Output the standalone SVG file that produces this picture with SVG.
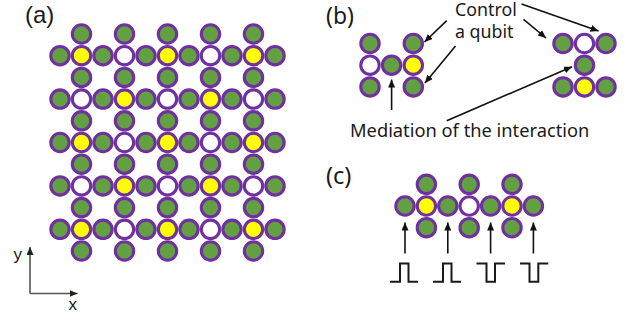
<svg xmlns="http://www.w3.org/2000/svg" width="641" height="320" viewBox="0 0 641 320">
<defs>
<style>
circle{stroke:#7030a0;stroke-width:3.1}
.g{fill:#62a042}.y{fill:#ffff00}.w{fill:#ffffff}
.lbl{font-family:"Liberation Sans",Arial,sans-serif;fill:#1a1a1a}
.txt{font-family:"Noto Sans","Open Sans",sans-serif;fill:#1a1a1a}
.ar{stroke:#111;stroke-width:1.6;fill:none}
.ax{stroke:#555;stroke-width:1.6;fill:none}
.pulse{stroke:#1a1a1a;stroke-width:2;fill:none}
</style>
<marker id="ah" markerUnits="userSpaceOnUse" markerWidth="9" markerHeight="8" refX="8" refY="3.5" orient="auto"><path d="M0,0 L8,3.5 L0,7 z" fill="#111"/></marker>
<marker id="axh" markerUnits="userSpaceOnUse" markerWidth="9" markerHeight="8" refX="8" refY="3.5" orient="auto"><path d="M0,0 L8,3.5 L0,7 z" fill="#222"/></marker>
</defs>
<rect width="641" height="320" fill="#fff"/>

<text class="lbl" x="25" y="22.5" font-size="24">(a)</text>
<text class="txt" x="326" y="23.5" font-size="23">(b)</text>
<text class="txt" x="326" y="184" font-size="23.5">(c)</text>

<g id="panel-a">
<g id="a0"><circle class="g" cx="81.5" cy="34" r="9.2"/><circle class="g" cx="124.5" cy="34" r="9.2"/><circle class="g" cx="167.5" cy="34" r="9.2"/><circle class="g" cx="210.5" cy="34" r="9.2"/><circle class="g" cx="253.5" cy="34" r="9.2"/></g>
<g id="a1"><circle class="g" cx="60" cy="55.7" r="9.2"/><circle class="y" cx="81.5" cy="55.7" r="9.2"/><circle class="g" cx="103" cy="55.7" r="9.2"/><circle class="w" cx="124.5" cy="55.7" r="9.2"/><circle class="g" cx="146" cy="55.7" r="9.2"/><circle class="y" cx="167.5" cy="55.7" r="9.2"/><circle class="g" cx="189" cy="55.7" r="9.2"/><circle class="w" cx="210.5" cy="55.7" r="9.2"/><circle class="g" cx="232" cy="55.7" r="9.2"/><circle class="y" cx="253.5" cy="55.7" r="9.2"/><circle class="g" cx="275" cy="55.7" r="9.2"/></g>
<g id="a2"><circle class="g" cx="81.5" cy="77.4" r="9.2"/><circle class="g" cx="124.5" cy="77.4" r="9.2"/><circle class="g" cx="167.5" cy="77.4" r="9.2"/><circle class="g" cx="210.5" cy="77.4" r="9.2"/><circle class="g" cx="253.5" cy="77.4" r="9.2"/></g>
<g id="a3"><circle class="g" cx="60" cy="99.1" r="9.2"/><circle class="w" cx="81.5" cy="99.1" r="9.2"/><circle class="g" cx="103" cy="99.1" r="9.2"/><circle class="y" cx="124.5" cy="99.1" r="9.2"/><circle class="g" cx="146" cy="99.1" r="9.2"/><circle class="w" cx="167.5" cy="99.1" r="9.2"/><circle class="g" cx="189" cy="99.1" r="9.2"/><circle class="y" cx="210.5" cy="99.1" r="9.2"/><circle class="g" cx="232" cy="99.1" r="9.2"/><circle class="w" cx="253.5" cy="99.1" r="9.2"/><circle class="g" cx="275" cy="99.1" r="9.2"/></g>
<g id="a4"><circle class="g" cx="81.5" cy="120.8" r="9.2"/><circle class="g" cx="124.5" cy="120.8" r="9.2"/><circle class="g" cx="167.5" cy="120.8" r="9.2"/><circle class="g" cx="210.5" cy="120.8" r="9.2"/><circle class="g" cx="253.5" cy="120.8" r="9.2"/></g>
<g id="a5"><circle class="g" cx="60" cy="142.5" r="9.2"/><circle class="y" cx="81.5" cy="142.5" r="9.2"/><circle class="g" cx="103" cy="142.5" r="9.2"/><circle class="w" cx="124.5" cy="142.5" r="9.2"/><circle class="g" cx="146" cy="142.5" r="9.2"/><circle class="y" cx="167.5" cy="142.5" r="9.2"/><circle class="g" cx="189" cy="142.5" r="9.2"/><circle class="w" cx="210.5" cy="142.5" r="9.2"/><circle class="g" cx="232" cy="142.5" r="9.2"/><circle class="y" cx="253.5" cy="142.5" r="9.2"/><circle class="g" cx="275" cy="142.5" r="9.2"/></g>
<g id="a6"><circle class="g" cx="81.5" cy="164.2" r="9.2"/><circle class="g" cx="124.5" cy="164.2" r="9.2"/><circle class="g" cx="167.5" cy="164.2" r="9.2"/><circle class="g" cx="210.5" cy="164.2" r="9.2"/><circle class="g" cx="253.5" cy="164.2" r="9.2"/></g>
<g id="a7"><circle class="g" cx="60" cy="185.9" r="9.2"/><circle class="w" cx="81.5" cy="185.9" r="9.2"/><circle class="g" cx="103" cy="185.9" r="9.2"/><circle class="y" cx="124.5" cy="185.9" r="9.2"/><circle class="g" cx="146" cy="185.9" r="9.2"/><circle class="w" cx="167.5" cy="185.9" r="9.2"/><circle class="g" cx="189" cy="185.9" r="9.2"/><circle class="y" cx="210.5" cy="185.9" r="9.2"/><circle class="g" cx="232" cy="185.9" r="9.2"/><circle class="w" cx="253.5" cy="185.9" r="9.2"/><circle class="g" cx="275" cy="185.9" r="9.2"/></g>
<g id="a8"><circle class="g" cx="81.5" cy="207.6" r="9.2"/><circle class="g" cx="124.5" cy="207.6" r="9.2"/><circle class="g" cx="167.5" cy="207.6" r="9.2"/><circle class="g" cx="210.5" cy="207.6" r="9.2"/><circle class="g" cx="253.5" cy="207.6" r="9.2"/></g>
<g id="a9"><circle class="g" cx="60" cy="229.3" r="9.2"/><circle class="y" cx="81.5" cy="229.3" r="9.2"/><circle class="g" cx="103" cy="229.3" r="9.2"/><circle class="w" cx="124.5" cy="229.3" r="9.2"/><circle class="g" cx="146" cy="229.3" r="9.2"/><circle class="y" cx="167.5" cy="229.3" r="9.2"/><circle class="g" cx="189" cy="229.3" r="9.2"/><circle class="w" cx="210.5" cy="229.3" r="9.2"/><circle class="g" cx="232" cy="229.3" r="9.2"/><circle class="y" cx="253.5" cy="229.3" r="9.2"/><circle class="g" cx="275" cy="229.3" r="9.2"/></g>
<g id="a10"><circle class="g" cx="81.5" cy="251" r="9.2"/><circle class="g" cx="124.5" cy="251" r="9.2"/><circle class="g" cx="167.5" cy="251" r="9.2"/><circle class="g" cx="210.5" cy="251" r="9.2"/><circle class="g" cx="253.5" cy="251" r="9.2"/></g>
</g>

<g id="axes">
<path class="ax" d="M30,293.5 L30,247" marker-end="url(#axh)"/>
<path class="ax" d="M30,293.5 L77.5,293.5" marker-end="url(#axh)"/>
<text class="lbl" x="13.5" y="260" font-size="17">y</text>
<text class="lbl" x="68.5" y="310" font-size="17">x</text>
</g>

<g id="panel-b-left">
<circle class="g" cx="370" cy="43.5" r="9.2"/><circle class="g" cx="413.3" cy="43.5" r="9.2"/>
<circle class="w" cx="370" cy="65.2" r="9.2"/><circle class="g" cx="391.6" cy="65.2" r="9.2"/><circle class="y" cx="413.3" cy="65.2" r="9.2"/>
<circle class="g" cx="370" cy="86.9" r="9.2"/><circle class="g" cx="413.3" cy="86.9" r="9.2"/>
</g>
<g id="panel-b-right">
<circle class="g" cx="563" cy="43.5" r="9.2"/><circle class="w" cx="584.5" cy="43.5" r="9.2"/><circle class="g" cx="606" cy="43.5" r="9.2"/>
<circle class="g" cx="584.5" cy="65.2" r="9.2"/>
<circle class="g" cx="563" cy="86.9" r="9.2"/><circle class="y" cx="584.5" cy="86.9" r="9.2"/><circle class="g" cx="606" cy="86.9" r="9.2"/>
</g>
<g id="b-labels">
<text class="txt" font-size="17.8"><tspan x="455" y="16">Control</tspan><tspan x="455" y="37.5">a qubit</tspan></text>
<text class="txt" x="350" y="137" font-size="18.3">Mediation of the interaction</text>
</g>

<g id="panel-c">
<circle class="g" cx="426.4" cy="184.3" r="9.2"/><circle class="g" cx="469.2" cy="184.3" r="9.2"/><circle class="g" cx="512" cy="184.3" r="9.2"/>
<circle class="g" cx="405" cy="206" r="9.2"/><circle class="y" cx="426.4" cy="206" r="9.2"/><circle class="g" cx="447.8" cy="206" r="9.2"/><circle class="w" cx="469.2" cy="206" r="9.2"/><circle class="g" cx="490.6" cy="206" r="9.2"/><circle class="y" cx="512" cy="206" r="9.2"/><circle class="g" cx="533.4" cy="206" r="9.2"/>
<circle class="g" cx="426.4" cy="227.7" r="9.2"/><circle class="g" cx="469.2" cy="227.7" r="9.2"/><circle class="g" cx="512" cy="227.7" r="9.2"/>
</g>
<g id="pulses">
<path class="pulse" d="M390,281.7 H400 V263.5 H408.5 V281.7 H418"/>
<path class="pulse" d="M433,281.7 H443 V263.5 H451.5 V281.7 H461"/>
<path class="pulse" d="M476.5,263.5 H486.5 V281.7 H495 V263.5 H505"/>
<path class="pulse" d="M520,263.5 H529.5 V281.7 H538.3 V263.5 H548.3"/>
</g>

<g id="connectors">
<path class="ar" d="M446.7,20.7 L424.5,42" marker-end="url(#ah)"/>
<path class="ar" d="M455.5,46 L425,83" marker-end="url(#ah)"/>
<path class="ar" d="M521.5,4 L598.5,31" marker-end="url(#ah)"/>
<path class="ar" d="M523.5,19.3 L546,38" marker-end="url(#ah)"/>
<path class="ar" d="M391.6,110 L391.6,79.5" marker-end="url(#ah)"/>
<path class="ar" d="M446.7,120.7 L572,66.7" marker-end="url(#ah)"/>
<path class="ar" d="M405,253.5 L405,222.5" marker-end="url(#ah)"/>
<path class="ar" d="M447.8,253.5 L447.8,222.5" marker-end="url(#ah)"/>
<path class="ar" d="M490.6,253.5 L490.6,222.5" marker-end="url(#ah)"/>
<path class="ar" d="M533.4,253.5 L533.4,222.5" marker-end="url(#ah)"/>
</g>
</svg>
